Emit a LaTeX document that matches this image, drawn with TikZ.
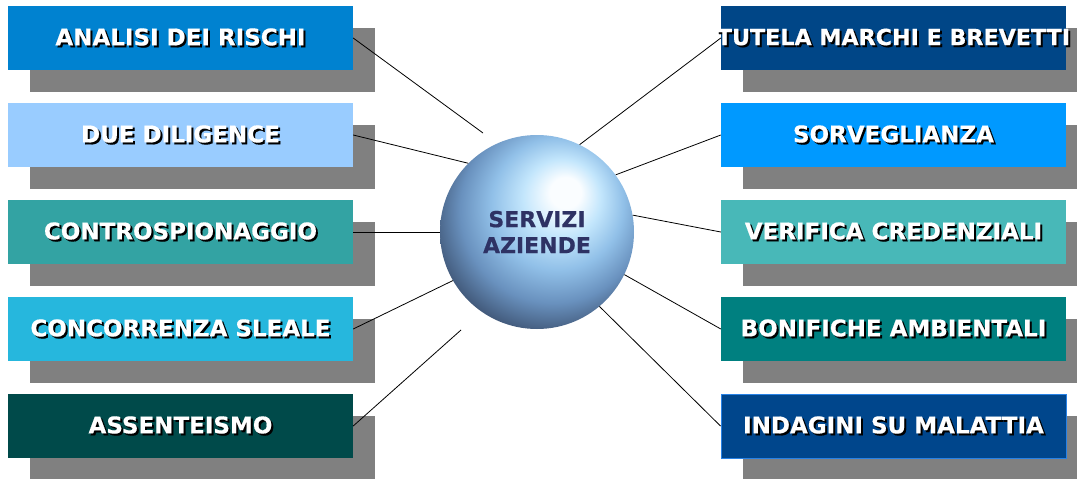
\documentclass[tikz,border=0pt]{standalone}
\usepackage{fontspec}
\setmainfont[BoldFeatures={FakeBold=0.5}]{DejaVu Sans}
\usepackage{tikz}
\usetikzlibrary{shadows}

\definecolor{shgray}{RGB}{128,128,128}
\definecolor{cRischi}{RGB}{0,130,208}
\definecolor{cDiligence}{RGB}{153,204,255}
\definecolor{cSpionaggio}{RGB}{51,163,163}
\definecolor{cSleale}{RGB}{38,183,221}
\definecolor{cAssenze}{RGB}{0,74,74}
\definecolor{cBrevetti}{RGB}{0,70,135}
\definecolor{cSorveglianza}{RGB}{0,153,255}
\definecolor{cCredenziali}{RGB}{72,184,184}
\definecolor{cBonifiche}{RGB}{0,128,128}
\definecolor{cMalattia}{RGB}{0,70,140}
\definecolor{cMalattiaBordo}{RGB}{40,130,230}
\definecolor{cCentro}{RGB}{46,50,100}
\definecolor{sphWhite}{RGB}{250,253,255}
\definecolor{sphHi}{RGB}{195,230,252}
\definecolor{sphMid}{RGB}{145,192,232}
\definecolor{sphLow}{RGB}{105,145,190}
\definecolor{sphDark}{RGB}{62,84,116}

% the node edge sits at 25bp in shading units
\pgfdeclareradialshading{sphereshade}{\pgfpoint{8bp}{11bp}}{%
  color(0bp)=(sphWhite); color(4bp)=(sphWhite); color(10bp)=(sphHi);
  color(17bp)=(sphMid); color(24bp)=(sphLow); color(31bp)=(sphDark);
  color(50bp)=(sphDark)}

\newcommand\shtxt[1]{\makebox[0pt]{\rlap{\hspace{2pt}\raisebox{-2pt}{\color{black}#1}}#1}}

\begin{document}
\begin{tikzpicture}[x=1pt,y=-1pt,
    box/.style={rectangle, minimum width=345pt, minimum height=64pt, inner sep=0pt,
        text=white, font=\fontsize{23}{26}\selectfont\bfseries,
        drop shadow={shadow xshift=22pt, shadow yshift=-22pt, fill=shgray, opacity=1}},
    sphere/.style={circle, minimum size=194pt, inner sep=0pt, shading=sphereshade,
        text=cCentro, font=\fontsize{22}{26}\selectfont\bfseries, align=center},
    link/.style={draw=black, line width=0.8pt}]
    \useasboundingbox (0,0) rectangle (1077,479);

    % left column
    \node[box, fill=cRischi] (L1) at (180.5,38) {\shtxt{ANALISI DEI RISCHI}};
    \node[box, fill=cDiligence] (L2) at (180.5,135) {\shtxt{DUE DILIGENCE}};
    \node[box, fill=cSpionaggio] (L3) at (180.5,232) {\shtxt{CONTROSPIONAGGIO}};
    \node[box, fill=cSleale] (L4) at (180.5,329) {\shtxt{CONCORRENZA SLEALE}};
    \node[box, fill=cAssenze] (L5) at (180.5,426) {\shtxt{ASSENTEISMO}};

    % right column
    \node[box, fill=cBrevetti, font=\fontsize{22.2}{26}\selectfont\bfseries] (R1) at (893.5,38) {\shtxt{TUTELA MARCHI E BREVETTI}};
    \node[box, fill=cSorveglianza] (R2) at (893.5,135) {\shtxt{SORVEGLIANZA}};
    \node[box, fill=cCredenziali] (R3) at (893.5,232) {\shtxt{VERIFICA CREDENZIALI}};
    \node[box, fill=cBonifiche] (R4) at (893.5,329) {\shtxt{BONIFICHE AMBIENTALI}};
    \node[box, fill=cMalattia, draw=cMalattiaBordo, line width=1pt] (R5) at (893.5,426) {\shtxt{INDAGINI SU MALATTIA}};

    % centre
    \node[sphere] (C) at (537,232) {SERVIZI\\AZIENDE};
    \coordinate (E1) at (483,133);
    \coordinate (E5) at (461,330);

    \draw[link] (L1.east) -- (E1);
    \draw[link] (L2.east) -- (C.135);
    \draw[link] (L3.east) -- (C.west);
    \draw[link] (L4.east) -- (C.210);
    \draw[link] (L5.east) -- (E5);
    \draw[link] (R1.west) -- (C.64);
    \draw[link] (R2.west) -- (C.36);
    \draw[link] (R3.west) -- (C.10);
    \draw[link] (R4.west) -- (C.-26);
    \draw[link] (R5.west) -- (C.-50);
\end{tikzpicture}
\end{document}
